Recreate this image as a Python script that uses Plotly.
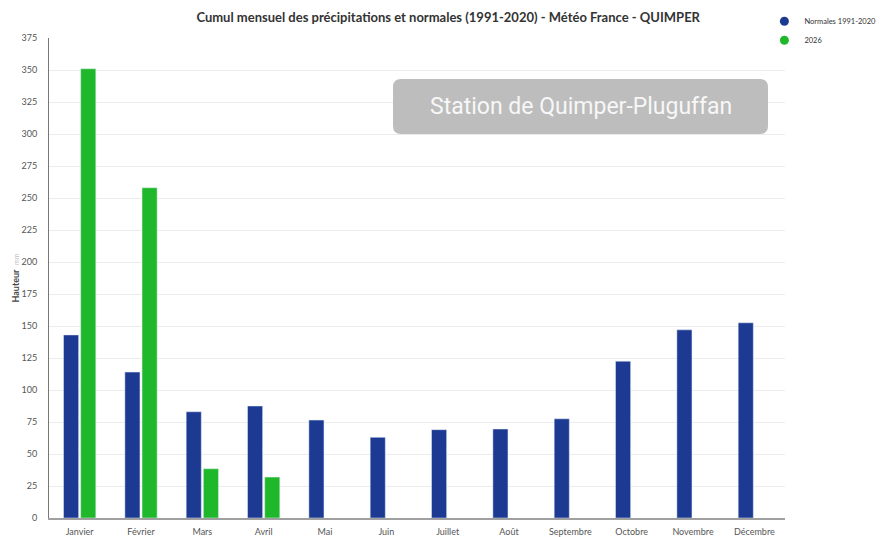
import plotly.graph_objects as go

months = ["Janvier", "Février", "Mars", "Avril", "Mai", "Juin", "Juillet", "Août",
          "Septembre", "Octobre", "Novembre", "Décembre"]
normales = [143, 114, 83, 87.5, 76.5, 63, 69, 69.5, 77.5, 122.5, 147, 152.5]
annee_2026 = [351, 258, 38.5, 32, None, None, None, None, None, None, None, None]

BLUE = "#1c3a92"
GREEN = "#1fb82b"

fig = go.Figure()
fig.add_trace(go.Bar(x=months, y=normales, name="Normales 1991-2020", marker_color=BLUE,
                     showlegend=False, legendgroup="n"))
fig.add_trace(go.Bar(x=months, y=annee_2026, name="2026", marker_color=GREEN,
                     showlegend=False, legendgroup="a"))
# legend entries with circle symbols
fig.add_trace(go.Scatter(x=[None], y=[None], mode="markers", name="Normales 1991-2020",
                         marker=dict(color=BLUE, size=9, symbol="circle"), legendgroup="n"))
fig.add_trace(go.Scatter(x=[None], y=[None], mode="markers", name="2026",
                         marker=dict(color=GREEN, size=9, symbol="circle"), legendgroup="a"))

# rounded box for station label
x0, x1, y0, y1 = 0.4674, 0.9769, 0.80, 0.9146
rx, ry = 0.0109, 0.0167
path = (f"M {x0+rx},{y0} L {x1-rx},{y0} Q {x1},{y0} {x1},{y0+ry} "
        f"L {x1},{y1-ry} Q {x1},{y1} {x1-rx},{y1} L {x0+rx},{y1} "
        f"Q {x0},{y1} {x0},{y1-ry} L {x0},{y0+ry} Q {x0},{y0} {x0+rx},{y0} Z")
fig.add_shape(type="path", path=path, xref="paper", yref="paper",
              fillcolor="#bdbdbd", line=dict(width=0), layer="above")
fig.add_annotation(text="Station de Quimper-Pluguffan", xref="paper", yref="paper",
                   x=(x0 + x1) / 2, y=(y0 + y1) / 2, xanchor="center", yanchor="middle",
                   showarrow=False,
                   font=dict(family="Roboto", size=23, color="#f7f7f7"))

fig.update_layout(
    width=884, height=537,
    margin=dict(l=49, r=99, t=38, b=19, autoexpand=False),
    paper_bgcolor="white", plot_bgcolor="white",
    font=dict(family="Lato", color="#555"),
    title=dict(text="<b>Cumul mensuel des précipitations et normales (1991-2020) - Météo France - QUIMPER</b>",
               x=0.507, xanchor="center", xref="container", y=0.968, yanchor="middle",
               font=dict(family="Lato", size=13, color="#333")),
    barmode="group", bargap=0.44, bargroupgap=0.12,
    legend=dict(x=0.972, y=1.065, xanchor="left", yanchor="top",
                font=dict(size=7.5, color="#333"), itemwidth=30,
                tracegroupgap=0, bgcolor="rgba(0,0,0,0)"),
    xaxis=dict(showline=True, linecolor="#a0a0a0", linewidth=1.5, ticks="",
               tickfont=dict(size=9, color="#555"), showgrid=False,
               ticklabelstandoff=4, automargin=False),
    yaxis=dict(range=[0, 375], dtick=25, showline=True, linecolor="#777", linewidth=1,
               gridcolor="#ececec", tickfont=dict(size=9, color="#555"),
               zeroline=False, ticklen=0, ticklabelstandoff=9, automargin=False,
               title=dict(text="<b>Hauteur</b>  <span style='color:#c0c0c0;font-size:7px'>mm</span>",
                          font=dict(size=9, color="#444"), standoff=0)),
)

fig.write_html("out.html", config={"displayModeBar": False},
               post_script="document.body.style.margin='0';document.body.style.padding='0';")
